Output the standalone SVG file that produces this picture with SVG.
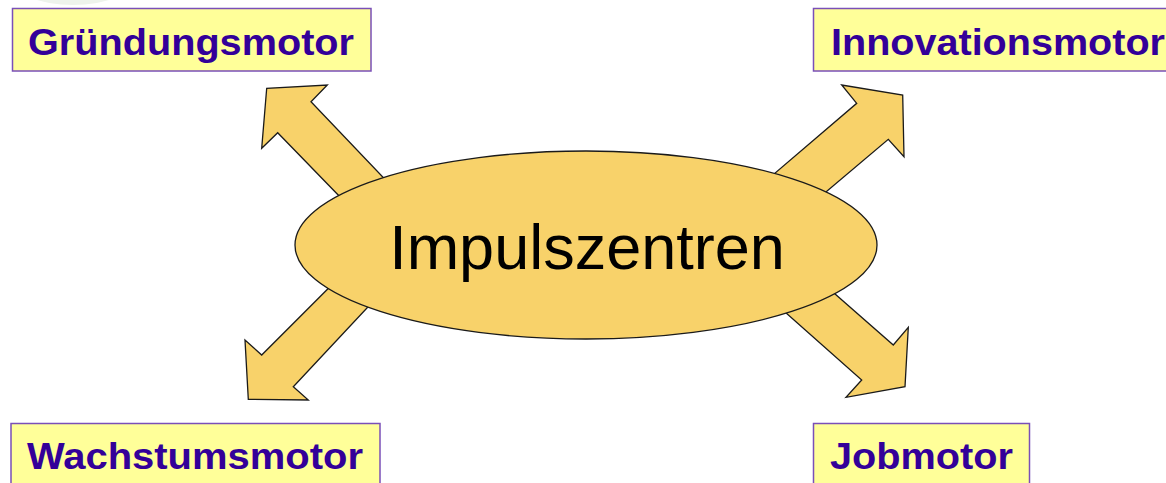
<svg xmlns="http://www.w3.org/2000/svg" width="1166" height="483" viewBox="0 0 1166 483">
  <style>
    .box { fill: #FFFF99; stroke: #7A4FB8; stroke-width: 1.5; }
    .lbl { font-family: "Liberation Sans", Arial, sans-serif; font-weight: bold; font-size: 37px; fill: #330099; }
    .arrow { fill: #F8D26A; stroke: #1a1a1a; stroke-width: 1.3; stroke-linejoin: miter; }
    .hub { fill: #F8D26A; stroke: #1a1a1a; stroke-width: 1.3; }
    .hubtxt { font-family: "Liberation Sans", Arial, sans-serif; font-size: 63px; fill: #000000; }
  </style>
  <rect width="1166" height="483" fill="#FFFFFF"/>
  <ellipse cx="73" cy="-22" rx="62" ry="27" fill="#EEF3EC"/>

  <g id="connectors">
    <polygon class="arrow" points="378,236 277.7,132.7 261.7,148.3 266.7,88.3 327.3,85 311,101.7 420,216"/>
    <polygon class="arrow" points="728.7,212.7 856.7,103.3 841.7,85 902.7,95 904,156.7 888.3,139.3 780.3,230.6"/>
    <polygon class="arrow" points="346.2,270.5 261.7,355 245,340 248.3,399.3 308.3,400 293.3,386.7 396,277"/>
    <polygon class="arrow" points="803.7,266.6 893.3,345 908.3,327.3 905,386.7 846,397.3 861.7,380 751.6,282.5"/>
  </g>

  <g id="impulszentren">
    <ellipse class="hub" cx="586" cy="245" rx="291" ry="94"/>
    <text class="hubtxt" x="587" y="269" text-anchor="middle">Impulszentren</text>
  </g>

  <g id="gruendungsmotor">
    <rect class="box" x="12.5" y="8.5" width="358.5" height="62.5"/>
    <text class="lbl" x="28" y="54.5" textLength="326" lengthAdjust="spacingAndGlyphs">Gründungsmotor</text>
  </g>

  <g id="innovationsmotor">
    <rect class="box" x="813.5" y="8.5" width="400" height="62.5"/>
    <text class="lbl" x="831" y="54.5" textLength="334" lengthAdjust="spacingAndGlyphs">Innovationsmotor</text>
  </g>

  <g id="wachstumsmotor">
    <rect class="box" x="11" y="423.5" width="369" height="80"/>
    <text class="lbl" x="27" y="468.5" textLength="336" lengthAdjust="spacingAndGlyphs">Wachstumsmotor</text>
  </g>

  <g id="jobmotor">
    <rect class="box" x="813.5" y="423.5" width="216" height="80"/>
    <text class="lbl" x="830" y="469" textLength="183" lengthAdjust="spacingAndGlyphs">Jobmotor</text>
  </g>
</svg>
